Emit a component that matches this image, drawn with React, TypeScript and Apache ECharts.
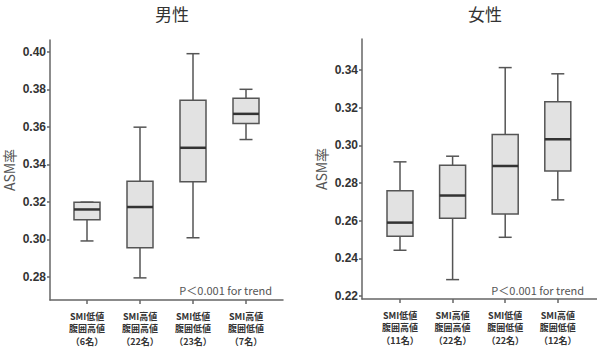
import React, { useEffect, useRef } from "react";
import * as echarts from "echarts";

const maleCategories = ["SMI低値\n腹囲高値\n（6名）", "SMI高値\n腹囲高値\n（22名）", "SMI低値\n腹囲低値\n（23名）", "SMI高値\n腹囲低値\n（7名）"];
const femaleCategories = ["SMI低値\n腹囲高値\n（11名）", "SMI高値\n腹囲高値\n（22名）", "SMI低値\n腹囲低値\n（22名）", "SMI高値\n腹囲低値\n（12名）"];

// [min, Q1, median, Q3, max]
const maleBoxes = [
  [0.2992, 0.3105, 0.316, 0.3199, 0.3199],
  [0.2795, 0.2956, 0.3173, 0.3311, 0.3599],
  [0.3009, 0.3308, 0.3489, 0.3743, 0.3991],
  [0.3533, 0.3618, 0.367, 0.3753, 0.3801],
];
const femaleBoxes = [
  [0.2443, 0.2517, 0.259, 0.276, 0.2913],
  [0.2287, 0.2613, 0.2734, 0.2895, 0.2943],
  [0.2512, 0.2636, 0.2891, 0.3058, 0.3414],
  [0.2711, 0.2865, 0.3033, 0.3232, 0.3381],
];

const maleTicks = [0.28, 0.3, 0.32, 0.34, 0.36, 0.38, 0.4];
const femaleTicks = [0.22, 0.24, 0.26, 0.28, 0.3, 0.32, 0.34];

const titles = ["男性", "女性"];
const yName = "ASM率";
const pText = "P＜0.001 for trend";

const AXIS_COLOR = "#666";
const LABEL_COLOR = "#333";

function renderBox(params: any, api: any) {
  const x = api.value(0);
  const pMin = api.coord([x, api.value(1)]);
  const pQ1 = api.coord([x, api.value(2)]);
  const pMed = api.coord([x, api.value(3)]);
  const pQ3 = api.coord([x, api.value(4)]);
  const pMax = api.coord([x, api.value(5)]);
  const cx = pMin[0];
  const half = 13;
  const cap = 6.5;
  const lineStyle = { stroke: "#555", lineWidth: 1.5, fill: null };
  return {
    type: "group",
    children: [
      { type: "line", shape: { x1: cx, y1: pMax[1], x2: cx, y2: pQ3[1] }, style: lineStyle },
      { type: "line", shape: { x1: cx, y1: pQ1[1], x2: cx, y2: pMin[1] }, style: lineStyle },
      { type: "line", shape: { x1: cx - cap, y1: pMax[1], x2: cx + cap, y2: pMax[1] }, style: lineStyle },
      { type: "line", shape: { x1: cx - cap, y1: pMin[1], x2: cx + cap, y2: pMin[1] }, style: lineStyle },
      {
        type: "rect",
        shape: { x: cx - half, y: pQ3[1], width: half * 2, height: pQ1[1] - pQ3[1] },
        style: { fill: "#e2e2e2", stroke: "#555", lineWidth: 1.5 },
      },
      { type: "line", shape: { x1: cx - half, y1: pMed[1], x2: cx + half, y2: pMed[1] }, style: { stroke: "#333", lineWidth: 2.5 } },
    ],
  };
}

function toData(boxes: number[][]) {
  return boxes.map((b, i) => [i, ...b]);
}

export default function App() {
  const ref = useRef<HTMLDivElement>(null);
  useEffect(() => {
    if (!ref.current) return;
    const chart = echarts.init(ref.current, null, { renderer: "svg" });
    const yAxisCommon = (ticks: number[], min: number, max: number, gridIndex: number, offset: number) => ({
      type: "value",
      gridIndex,
      min,
      max,
      offset,
      name: yName,
      nameLocation: "middle",
      nameGap: 34,
      nameRotate: 90,
      nameTextStyle: { color: "#555", fontSize: 14, fontFamily: "Noto Sans CJK JP" },
      axisLine: { show: true, lineStyle: { color: AXIS_COLOR, width: 1.5 } },
      axisTick: { show: true, length: 3, customValues: ticks, lineStyle: { color: AXIS_COLOR, width: 1.5 } },
      axisLabel: {
        customValues: ticks,
        formatter: (v: number) => v.toFixed(2),
        color: LABEL_COLOR,
        fontWeight: "bold",
        fontSize: 12,
        fontFamily: "Liberation Sans",
        margin: 4,
      },
      splitLine: { show: false },
    });
    const xAxisCommon = (cats: string[], gridIndex: number) => ({
      type: "category",
      gridIndex,
      data: cats,
      axisLine: { show: false },
      axisTick: { show: true, alignWithLabel: true, length: 4, lineStyle: { color: AXIS_COLOR, width: 1.5 } },
      axisLabel: {
        color: LABEL_COLOR,
        fontWeight: "bold",
        fontSize: 9,
        lineHeight: 12.5,
        fontFamily: "Noto Sans CJK JP",
        margin: 10,
        interval: 0,
      },
      splitLine: { show: false },
    });
    const lineAxis = (gridIndex: number) => ({
      type: "value",
      gridIndex,
      min: 0,
      max: 1,
      axisLine: { show: true, onZero: false, lineStyle: { color: AXIS_COLOR, width: 1.5 } },
      axisTick: { show: false },
      axisLabel: { show: false },
      splitLine: { show: false },
    });
    const hiddenY = (gridIndex: number) => ({ type: "value", gridIndex, show: false, min: 0, max: 1 });
    const pStyle = { fontSize: 11, fontWeight: "normal", color: "#555", fontFamily: "Noto Sans CJK JP" };

    chart.setOption({
      animation: false,
      backgroundColor: "#fff",
      title: [
        { text: titles[0], left: 167, top: 0, textAlign: "center", textStyle: { fontSize: 17, fontWeight: "normal", color: "#333", fontFamily: "Noto Sans CJK JP" } },
        { text: titles[1], left: 480, top: 0, textAlign: "center", textStyle: { fontSize: 17, fontWeight: "normal", color: "#333", fontFamily: "Noto Sans CJK JP" } },
        { text: pText, right: 320, top: 279, textStyle: pStyle },
        { text: pText, right: 8, top: 279, textStyle: pStyle },
      ],
      grid: [
        { left: 60.5, top: 40, width: 212, height: 260 },
        { left: 50, top: 40, width: 233, height: 260 },
        { left: 373.7, top: 39, width: 210.4, height: 260 },
        { left: 362, top: 39, width: 240, height: 260 },
      ],
      xAxis: [xAxisCommon(maleCategories, 0), lineAxis(1), xAxisCommon(femaleCategories, 2), lineAxis(3)],
      yAxis: [
        yAxisCommon(maleTicks, 0.2677, 0.4064, 0, 10.5),
        hiddenY(1),
        yAxisCommon(femaleTicks, 0.2184, 0.3566, 2, 11.7),
        hiddenY(3),
      ],
      series: [
        {
          type: "custom",
          xAxisIndex: 0,
          yAxisIndex: 0,
          renderItem: renderBox,
          encode: { x: 0, y: [1, 2, 3, 4, 5] },
          data: toData(maleBoxes),
        },
        {
          type: "custom",
          xAxisIndex: 2,
          yAxisIndex: 2,
          renderItem: renderBox,
          encode: { x: 0, y: [1, 2, 3, 4, 5] },
          data: toData(femaleBoxes),
        },
      ],
    });
    return () => chart.dispose();
  }, []);
  return <div ref={ref} style={{ position: "fixed", left: 0, top: 0, width: 597, height: 354 }} />;
}
